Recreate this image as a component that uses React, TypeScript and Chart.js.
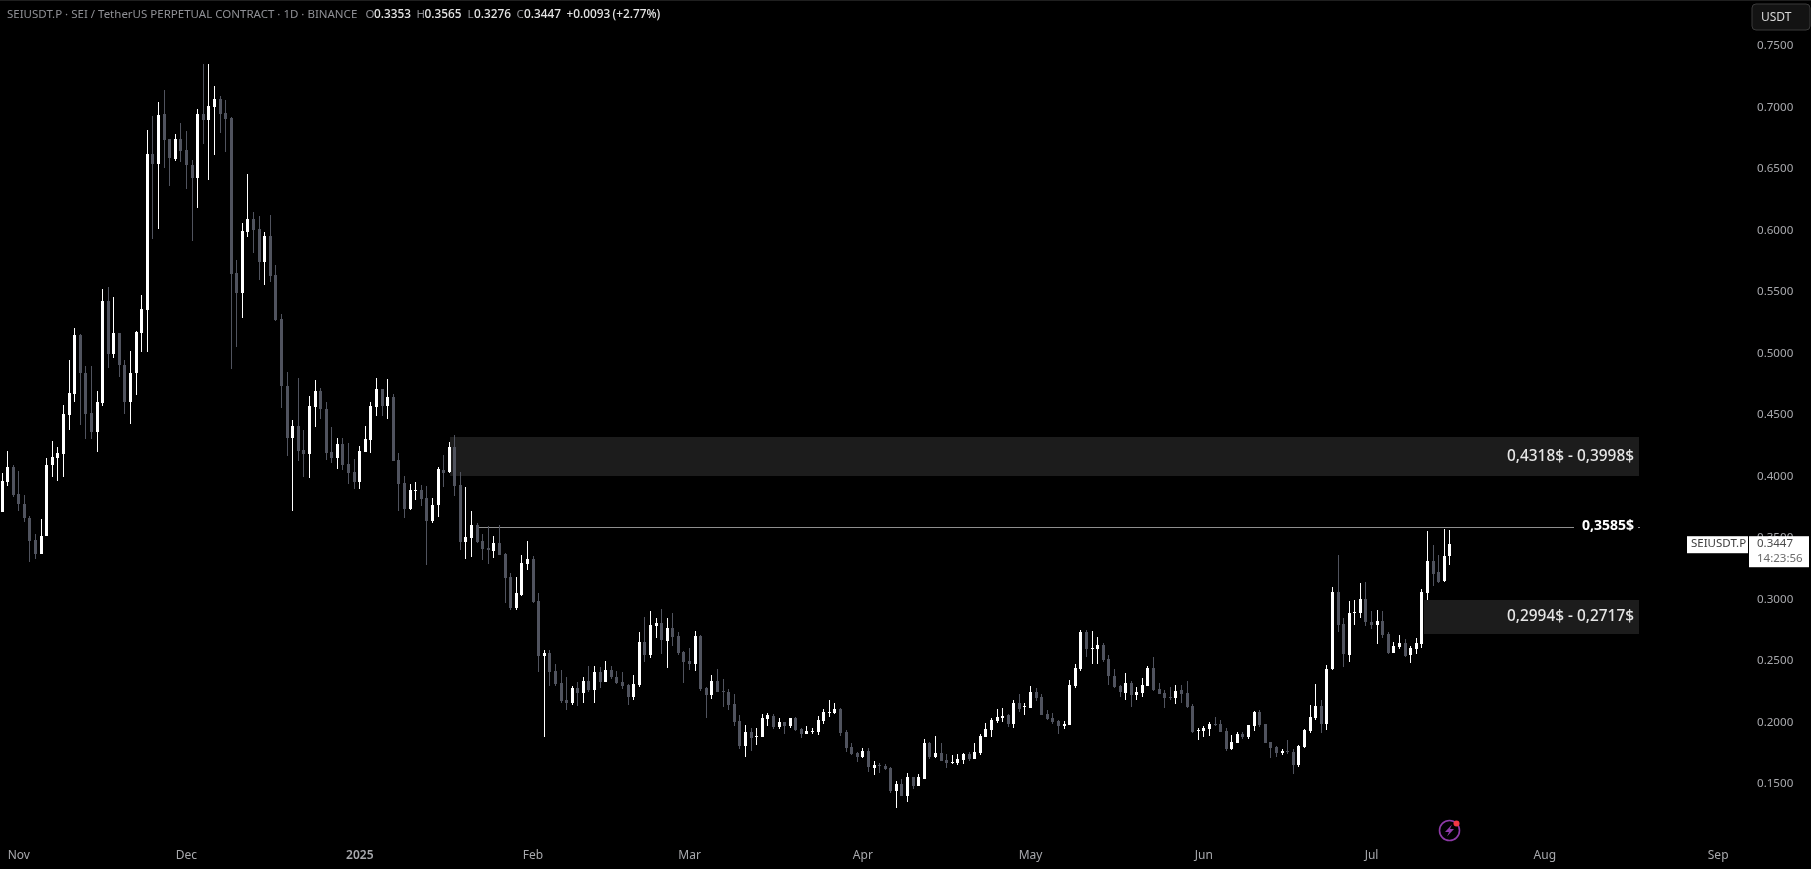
import React, { useEffect, useRef } from "react";
import { Chart, registerables } from "chart.js";

Chart.register(...registerables);

// Daily candles, index 0 = 29 Oct 2024
const opens = [
.3710,.3952,.4077,.3853,.3778,.3657,.3480,.3365,.3511,.4095,
.4151,.4183,.4497,.4668,.5150,.4836,.4515,.4360,.4593,.5423,
.4994,.5165,.4904,.4602,.4836,.5165,.5352,.6621,.6537,.6944,
.6742,.6580,.6742,.6652,.6534,.6425,.6944,.6894,.7000,.7066,
.6950,.6913,.5654,.5489,.5986,.6089,.6011,.5741,.5952,.5635,
.5274,.4733,.4310,.4410,.4214,.4179,.4562,.4693,.4546,.4198,
.4145,.4263,.4098,.4036,.3952,.4198,.4295,.4562,.4705,.4574,
.4646,.4130,.3946,.3732,.3881,.3884,.3825,.3632,.3766,.4049,
.4033,.4238,.3927,.3467,.3501,.3601,.3473,.3418,.3393,.3454,
.3370,.3181,.2926,.3037,.3286,.3327,.2983,.2538,.2563,.2416,
.2316,.2180,.2153,.2275,.2237,.2335,.2262,.2408,.2327,.2424,
.2368,.2327,.2302,.2205,.2302,.2652,.2546,.2782,.2806,.2660,
.2766,.2701,.2571,.2497,.2473,.2701,.2278,.2221,.2335,.2254,
.2245,.2148,.2010,.1806,.1920,.1880,.1880,.2026,.2050,.1961,
.2002,.1969,.2034,.1945,.1904,.1918,.1920,.2010,.2075,.2075,
.2107,.1920,.1798,.1750,.1717,.1766,.1628,.1652,.1644,.1628,
.1441,.1498,.1400,.1554,.1481,.1538,.1831,.1717,.1750,.1693,
.1668,.1668,.1693,.1741,.1701,.1750,.1880,.1937,.2010,.2034,
.2059,.1985,.2156,.2124,.2115,.2246,.2205,.2067,.2034,.2010,
.1969,.1977,.2294,.2433,.2733,.2595,.2595,.2628,.2514,.2376,
.2294,.2237,.2319,.2221,.2237,.2294,.2441,.2270,.2237,.2205,
.2197,.2262,.2237,.2132,.1928,.1928,.1945,.1985,.1985,.1928,
.1782,.1831,.1904,.1880,.1969,.2083,.1985,.1839,.1798,.1750,
.1766,.1758,.1652,.1798,.1928,.2034,.2132,.1985,.2433,.3059,
.2798,.2546,.2888,.2888,.3002,.2815,.2790,.2823,.2717,.2563,
.2611,.2644,.2546,.2595,.2636,.3050,.3311,.3221,.3148,.3353,
];
const closes = [
.3959,.4077,.3844,.3775,.3657,.3477,.3365,.3511,.4095,.4158,
.4186,.4506,.4674,.5147,.4836,.4509,.4363,.4602,.5423,.4997,
.5165,.4901,.4602,.4839,.5175,.5358,.6621,.6537,.6935,.6733,
.6587,.6742,.6643,.6534,.6425,.6944,.6894,.7006,.7066,.6944,
.6904,.5644,.5489,.5993,.6089,.6002,.5741,.5955,.5626,.5268,
.4730,.4310,.4410,.4204,.4179,.4571,.4693,.4543,.4189,.4145,
.4263,.4092,.4024,.3952,.4201,.4304,.4568,.4705,.4574,.4643,
.4127,.3937,.3735,.3884,.3887,.3816,.3635,.3766,.4058,.4027,
.4238,.3921,.3467,.3505,.3601,.3467,.3408,.3396,.3458,.3359,
.3172,.2926,.3048,.3294,.3327,.2980,.2538,.2560,.2408,.2311,
.2170,.2156,.2278,.2237,.2335,.2262,.2408,.2327,.2424,.2368,
.2319,.2294,.2205,.2311,.2652,.2546,.2790,.2806,.2668,.2766,
.2693,.2563,.2489,.2473,.2701,.2270,.2221,.2335,.2245,.2245,
.2140,.2002,.1806,.1920,.1871,.1888,.2034,.2059,.1961,.2002,
.1969,.2034,.1937,.1904,.1926,.1926,.2018,.2083,.2083,.2107,
.1912,.1790,.1741,.1717,.1766,.1636,.1652,.1644,.1620,.1441,
.1498,.1400,.1554,.1481,.1554,.1831,.1717,.1750,.1685,.1668,
.1676,.1701,.1741,.1701,.1758,.1888,.1945,.2018,.2042,.2050,
.1985,.2156,.2107,.2132,.2246,.2197,.2059,.2026,.2002,.1969,
.1985,.2302,.2441,.2733,.2595,.2603,.2628,.2506,.2376,.2286,
.2246,.2319,.2221,.2246,.2302,.2441,.2262,.2229,.2197,.2197,
.2254,.2229,.2124,.1920,.1937,.1953,.1985,.1977,.1920,.1782,
.1839,.1904,.1880,.1977,.2083,.1977,.1831,.1790,.1750,.1766,
.1758,.1652,.1807,.1937,.2042,.2132,.1985,.2433,.3059,.2793,
.2555,.2888,.2896,.3002,.2815,.2790,.2823,.2709,.2563,.2620,
.2644,.2538,.2603,.2644,.3059,.3311,.3205,.3140,.3351,.3447,
];
const highs = [
.4024,.4204,.4092,.4039,.3844,.3679,.3526,.3651,.4145,.4288,
.4238,.4581,.4944,.5206,.5156,.4895,.4895,.4693,.5523,.5539,
.5455,.5168,.4944,.5016,.5181,.5473,.6814,.6932,.7041,.7137,
.6742,.6786,.6873,.6807,.6571,.6985,.7355,.7355,.7171,.7087,
.7056,.6919,.5756,.6055,.6453,.6145,.6114,.5989,.6123,.5716,
.5315,.4848,.4456,.4795,.4372,.4652,.4780,.4714,.4602,.4397,
.4307,.4307,.4267,.4139,.4245,.4406,.4602,.4795,.4708,.4789,
.4668,.4186,.3999,.3934,.3949,.3928,.3918,.3825,.4071,.4170,
.4279,.4335,.4033,.3912,.3716,.3616,.3526,.3592,.3511,.3601,
.3373,.3213,.3181,.3357,.3470,.3349,.3048,.2587,.2587,.2470,
.2424,.2368,.2294,.2324,.2368,.2457,.2457,.2449,.2498,.2457,
.2416,.2408,.2311,.2384,.2733,.2855,.2907,.2847,.2920,.2847,
.2888,.2733,.2579,.2603,.2742,.2709,.2286,.2384,.2433,.2351,
.2270,.2229,.2059,.1977,.1953,.1953,.2067,.2075,.2067,.2034,
.2002,.2034,.2042,.1953,.1969,.1953,.2050,.2107,.2180,.2156,
.2116,.1936,.1831,.1758,.1790,.1790,.1685,.1668,.1660,.1636,
.1522,.1538,.1584,.1554,.1579,.1863,.1839,.1888,.1831,.1741,
.1733,.1741,.1750,.1758,.1831,.1904,.1993,.2034,.2107,.2115,
.2067,.2180,.2229,.2156,.2294,.2278,.2229,.2099,.2075,.2018,
.2010,.2343,.2473,.2750,.2750,.2741,.2693,.2644,.2546,.2433,
.2302,.2400,.2335,.2286,.2359,.2457,.2530,.2319,.2262,.2286,
.2302,.2302,.2335,.2148,.1953,.1969,.2002,.2042,.2018,.1953,
.1896,.1920,.1920,.1977,.2091,.2099,.1985,.1839,.1807,.1782,
.1855,.1782,.1815,.1945,.2140,.2311,.2180,.2465,.3099,.3359,
.2844,.2985,.2993,.3132,.3140,.2904,.2912,.2904,.2733,.2652,
.2709,.2676,.2620,.2684,.3083,.3554,.3441,.3359,.3571,.3565,
];
const lows = [
.3710,.3921,.3834,.3719,.3626,.3305,.3324,.3365,.3511,.3996,
.3962,.3992,.4375,.4602,.4416,.4304,.4304,.4198,.4574,.4879,
.4960,.4808,.4506,.4425,.4661,.5010,.5010,.5927,.6011,.6506,
.6360,.6562,.6552,.6335,.5912,.6179,.6702,.6409,.6611,.6789,
.6636,.4873,.5050,.5287,.5946,.5812,.5594,.5554,.5579,.5265,
.4556,.4164,.3713,.4120,.3992,.3983,.4400,.4466,.4133,.4108,
.4055,.4052,.3937,.3896,.3896,.4195,.4189,.4490,.4490,.4466,
.4124,.3719,.3660,.3725,.3806,.3760,.3280,.3623,.3669,.3909,
.4027,.3840,.3399,.3324,.3346,.3458,.3315,.3290,.3337,.3359,
.2969,.2912,.2912,.3026,.3237,.2972,.2408,.1880,.2294,.2294,
.2156,.2099,.2140,.2134,.2156,.2245,.2156,.2278,.2327,.2351,
.2311,.2273,.2140,.2180,.2286,.2489,.2522,.2685,.2555,.2441,
.2620,.2546,.2319,.2424,.2416,.2254,.2034,.2189,.2245,.2124,
.2099,.1969,.1782,.1717,.1766,.1815,.1880,.1969,.1945,.1945,
.1904,.1953,.1929,.1871,.1904,.1904,.1896,.1985,.2042,.2067,
.1888,.1758,.1733,.1676,.1709,.1595,.1571,.1587,.1612,.1424,
.1302,.1400,.1351,.1457,.1481,.1538,.1701,.1709,.1685,.1628,
.1660,.1652,.1660,.1685,.1701,.1733,.1880,.1880,.1993,.2002,
.1961,.1953,.2083,.2059,.2115,.2172,.2059,.2018,.1985,.1904,
.1945,.1977,.2278,.2416,.2530,.2473,.2473,.2489,.2302,.2278,
.2205,.2180,.2124,.2180,.2205,.2294,.2254,.2229,.2115,.2180,
.2148,.2156,.2115,.1912,.1855,.1880,.1888,.1969,.1920,.1766,
.1774,.1831,.1863,.1863,.1928,.1961,.1831,.1709,.1717,.1733,
.1741,.1579,.1636,.1790,.1912,.2018,.1912,.1937,.2424,.2733,
.2449,.2490,.2790,.2847,.2782,.2758,.2636,.2685,.2554,.2563,
.2595,.2530,.2481,.2554,.2603,.2993,.3107,.3132,.3140,.3276,
];

const monthTickIndex = [3, 33, 64, 95, 123, 154, 184, 215, 245, 276, 307];
const monthTickLabel = ["Nov", "Dec", "2025", "Feb", "Mar", "Apr", "May", "Jun", "Jul", "Aug", "Sep"];
const priceTicks = [0.15, 0.2, 0.25, 0.3, 0.35, 0.4, 0.45, 0.5, 0.55, 0.6, 0.65, 0.7, 0.75];

const upperZone = [0.4318, 0.3998];
const upperZoneDays = [80.1, 292.8];
const lowerZone = [0.2994, 0.2717];
const lowerZoneDays = [254.3, 292.8];
const resistance = 0.3585;
const resistanceDays = [85, 281.3];
const lastPrice = 0.3447;

const UP = "#ffffff";
const DOWN = "#50535e";
const AXIS = "#a8a9ad";
const FONT = '"Noto Sans", sans-serif';

const candleIndex = opens.map((_, i) => i);
const wickData = candleIndex.map((i) => ({ x: i, y: [lows[i], highs[i]] }));
const bodyData = candleIndex.map((i) => ({ x: i, y: [opens[i], closes[i]] }));
const candleColor = (ctx: any) => {
  const i = ctx.dataIndex;
  return closes[i] >= opens[i] ? UP : DOWN;
};

const crispBars = {
  id: "crispBars",
  beforeDatasetsDraw(chart: any) {
    chart.data.datasets.forEach((_: any, d: number) => {
      chart.getDatasetMeta(d).data.forEach((el: any) => {
        el.x = Math.floor(el.x) + 0.5;
        const top = Math.round(Math.min(el.y, el.base));
        let bottom = Math.round(Math.max(el.y, el.base));
        if (bottom - top < 1) bottom = top + 1;
        el.y = top;
        el.base = bottom;
        el.height = bottom - top;
      });
    });
  },
};

const text = (c: any, s: string, x: number, y: number, font: string, color: string, align: any = "left") => {
  c.font = font;
  c.fillStyle = color;
  c.textAlign = align;
  c.textBaseline = "middle";
  c.fillText(s, x, y);
};

const zones = {
  id: "zones",
  beforeDatasetsDraw(chart: any) {
    const c = chart.ctx;
    const xs = chart.scales.x;
    const ys = chart.scales.y;
    c.save();
    c.fillStyle = "#1c1c1c";
    for (const [zone, days] of [
      [upperZone, upperZoneDays],
      [lowerZone, lowerZoneDays],
    ]) {
      const l = Math.round(xs.getPixelForValue(days[0]));
      const r = Math.round(xs.getPixelForValue(days[1]));
      const t = Math.round(ys.getPixelForValue(zone[0]));
      const b = Math.round(ys.getPixelForValue(zone[1]));
      c.fillRect(l, t, r - l, b - t);
    }
    c.fillStyle = "#8f8f8f";
    const ry = Math.floor(ys.getPixelForValue(resistance));
    const rl = Math.round(xs.getPixelForValue(resistanceDays[0]));
    const rr = Math.round(xs.getPixelForValue(resistanceDays[1]));
    c.fillRect(rl, ry, rr - rl, 1);
    c.fillRect(1638, ry, 2, 1);
    c.restore();
  },
};

const overlay = {
  id: "overlay",
  afterDraw(chart: any) {
    const c = chart.ctx;
    const ys = chart.scales.y;
    c.save();
    c.fillStyle = "#1f1f1f";
    c.fillRect(0, 0, 1811, 1);

    // zone labels
    const zf = `500 15.4px ${FONT}`;
    text(c, "0,4318$ - 0,3998$", 1634, 457, zf, "#e6e6e6", "right");
    text(c, "0,2994$ - 0,2717$", 1634, 617, zf, "#e6e6e6", "right");
    text(c, "0,3585$", 1634, 526.5, `700 14px ${FONT}`, "#ffffff", "right");

    // last price tags
    const py = ys.getPixelForValue(lastPrice);
    c.fillStyle = "#ffffff";
    c.fillRect(1687, py - 8, 61, 17);
    c.fillRect(1749, py - 8, 60, 31);
    const tf = `11.5px ${FONT}`;
    text(c, "SEIUSDT.P", 1691, py, tf, "#3c3c3c");
    text(c, "0.3447", 1757, py, tf, "#4a4a4a");
    text(c, "14:23:56", 1757, py + 15, tf, "#6a6a6a");

    // USDT button
    c.beginPath();
    c.roundRect(1752, 4, 58, 26, 4);
    c.fillStyle = "#131313";
    c.fill();
    c.strokeStyle = "#3a3a3a";
    c.lineWidth = 1;
    c.stroke();
    text(c, "USDT", 1761, 18, `12px ${FONT}`, "#d6d6d6");

    // header
    const hf = `11.5px ${FONT}`;
    const vf = `500 11.8px ${FONT}`;
    const lab = "#8f9095";
    const val = "#e4e4e4";
    text(c, "SEIUSDT.P · SEI / TetherUS PERPETUAL CONTRACT · 1D · BINANCE", 7, 14.5, hf, lab);
    text(c, "O", 365.5, 14.5, hf, lab);
    text(c, "0.3353", 374, 14.5, vf, val);
    text(c, "H", 416.5, 14.5, hf, lab);
    text(c, "0.3565", 424.5, 14.5, vf, val);
    text(c, "L", 467.5, 14.5, hf, lab);
    text(c, "0.3276", 474, 14.5, vf, val);
    text(c, "C", 516.5, 14.5, hf, lab);
    text(c, "0.3447", 524, 14.5, vf, val);
    text(c, "+0.0093", 566.5, 14.5, vf, val);
    text(c, "(+2.77%)", 612.5, 14.5, vf, val);

    // status icon
    c.beginPath();
    c.arc(1449.5, 830.5, 10, 0, Math.PI * 2);
    c.strokeStyle = "#8e3aa8";
    c.lineWidth = 1.6;
    c.stroke();
    c.beginPath();
    c.moveTo(1452, 824.5);
    c.lineTo(1445, 832);
    c.lineTo(1449, 832);
    c.lineTo(1447, 836.5);
    c.lineTo(1454, 829);
    c.lineTo(1450, 829);
    c.closePath();
    c.fillStyle = "#8e3aa8";
    c.fill();
    c.beginPath();
    c.arc(1456.5, 823.5, 3, 0, Math.PI * 2);
    c.fillStyle = "#f23645";
    c.fill();
    c.restore();
  },
};

const noPadding = (s: any) => {
  s.paddingTop = 0;
  s.paddingBottom = 0;
  s.paddingLeft = 0;
  s.paddingRight = 0;
};

export default function App() {
  const ref = useRef<HTMLCanvasElement>(null);
  useEffect(() => {
    document.body.style.margin = "0";
    document.body.style.background = "#000";
    const chart = new Chart(ref.current as HTMLCanvasElement, {
      type: "bar",
      data: {
        datasets: [
          {
            data: wickData,
            barThickness: 1,
            grouped: false,
            backgroundColor: candleColor,
            borderWidth: 0,
            inflateAmount: 0,
          } as any,
          {
            data: bodyData,
            barThickness: 3,
            grouped: false,
            backgroundColor: candleColor,
            borderWidth: 0,
            inflateAmount: 0,
          } as any,
        ],
      },
      plugins: [crispBars, zones, overlay],
      options: {
        responsive: false,
        animation: false,
        devicePixelRatio: 1,
        layout: { padding: 0, autoPadding: false },
        events: [],
        plugins: { legend: { display: false }, tooltip: { enabled: false }, title: { display: false } },
        scales: {
          x: {
            type: "linear",
            offset: false,
            min: -0.358,
            max: 312.52,
            grid: { display: false, drawTicks: false, offset: false },
            border: { display: false },
            afterFit: (s: any) => {
              s.height = 27;
              noPadding(s);
            },
            afterBuildTicks: (s: any) => {
              s.ticks = monthTickIndex.map((value) => ({ value }));
            },
            ticks: {
              autoSkip: false,
              maxRotation: 0,
              padding: 6,
              color: AXIS,
              font: (ctx: any) =>
                monthTickLabel[monthTickIndex.indexOf(ctx.tick?.value)] === "2025"
                  ? { family: "Noto Sans", size: 12, weight: "600" }
                  : { family: "Noto Sans", size: 12 },
              callback: (v: any) => monthTickLabel[monthTickIndex.indexOf(v)] ?? "",
            },
          },
          y: {
            type: "linear",
            position: "right",
            min: 0.1026,
            max: 0.78715,
            bounds: "data",
            grid: { display: false, drawTicks: false },
            border: { display: false },
            afterFit: (s: any) => {
              s.width = 62;
              noPadding(s);
            },
            afterBuildTicks: (s: any) => {
              s.ticks = priceTicks.map((value) => ({ value }));
            },
            ticks: {
              padding: 8,
              color: AXIS,
              font: { family: "Noto Sans", size: 11.6 },
              callback: (v: any) => Number(v).toFixed(4),
            },
          },
        },
      } as any,
    });
    return () => chart.destroy();
  }, []);
  return (
    <div style={{ position: "fixed", left: 0, top: 0, width: 1811, height: 869, background: "#000" }}>
      <canvas ref={ref} width={1811} height={869} style={{ display: "block" }} />
    </div>
  );
}
